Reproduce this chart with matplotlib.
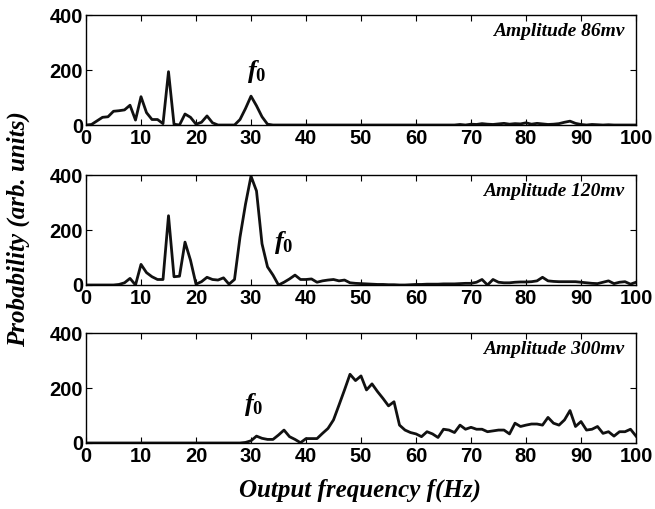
import numpy as np
import matplotlib
matplotlib.use('Agg')
import matplotlib.pyplot as plt
from matplotlib.font_manager import FontProperties

plt.rcParams['mathtext.fontset'] = 'custom'
plt.rcParams['mathtext.it'] = 'Liberation Serif:italic:bold'
plt.rcParams['mathtext.rm'] = 'Liberation Serif:bold'

# frequency grid (Hz)
freq = np.arange(0, 101)

# Amplitude 86 mV
p86 = [0, 2, 15, 28, 30, 50, 52, 55, 72, 18, 103, 45, 20, 20, 5, 194, 3, 0, 40, 28,
       3, 10, 33, 8, 0, 0, 0, 0, 20, 60, 105, 70, 30, 3, 0, 0, 0, 0, 0, 0,
       0, 0, 0, 0, 0, 0, 0, 0, 0, 0, 0, 0, 0, 0, 0, 0, 0, 0, 0, 0,
       0, 0, 0, 0, 0, 0, 0, 0, 2, 0, 3, 2, 5, 3, 2, 4, 6, 3, 5, 4,
       8, 3, 6, 4, 2, 3, 5, 10, 14, 6, 2, 0, 2, 1, 0, 1, 0, 0, 0, 0, 0]

# Amplitude 120 mV
p120 = [0, 0, 0, 0, 0, 0, 2, 8, 24, 0, 75, 45, 30, 20, 20, 252, 30, 32, 156, 90,
        3, 12, 28, 20, 18, 26, 3, 20, 174, 294, 396, 342, 150, 66, 36, 0, 10, 22, 36, 20,
        20, 22, 10, 15, 18, 20, 15, 18, 8, 6, 5, 4, 3, 2, 2, 1, 1, 0, 0, 1,
        2, 2, 3, 3, 3, 4, 4, 4, 5, 6, 6, 10, 20, 0, 20, 10, 8, 8, 10, 11,
        11, 12, 15, 28, 15, 13, 12, 12, 12, 12, 10, 8, 6, 5, 10, 15, 5, 10, 12, 3, 10]

# Amplitude 300 mV
p300 = [0, 0, 0, 0, 0, 0, 0, 0, 0, 0, 0, 0, 0, 0, 0, 0, 0, 0, 0, 0,
        0, 0, 0, 0, 0, 0, 0, 0, 0, 2, 8, 25, 17, 13, 13, 29, 47, 23, 13, 1,
        16, 16, 16, 35, 53, 84, 138, 193, 250, 227, 244, 193, 215, 187, 162, 135, 150, 65, 47, 38,
        33, 23, 41, 33, 20, 50, 47, 38, 65, 50, 57, 50, 50, 41, 44, 47, 47, 33, 72, 60,
        65, 69, 69, 65, 93, 72, 65, 84, 118, 60, 78, 47, 50, 60, 35, 41, 25, 41, 41, 50, 25]

series = [p86, p120, p300]
labels = ['Amplitude 86mv', 'Amplitude 120mv', 'Amplitude 300mv']
f0_pos = [(31.0, 195), (36.0, 155), (30.5, 140)]

fig = plt.figure(figsize=(6.55, 5.09), dpi=100)
bottoms = [0.7544, 0.4401, 0.1297]
height = 0.216

tick_fp = FontProperties(family='Liberation Sans', weight='bold', size=14.5)
serif = ['Liberation Serif', 'DejaVu Serif']

for i, (y, lab, fp) in enumerate(zip(series, labels, f0_pos)):
    ax = fig.add_axes([0.1313, bottoms[i], 0.8397, height])
    ax.plot(freq, y, color='#111111', lw=2.0)
    ax.set_xlim(0, 100)
    ax.set_ylim(0, 400)
    ax.set_xticks(np.arange(0, 101, 10))
    ax.set_yticks([0, 200, 400])
    ax.tick_params(direction='in', top=True, right=True, length=4, width=0.8, pad=2)
    ax.tick_params(axis='x', pad=3)
    for t in ax.get_xticklabels() + ax.get_yticklabels():
        t.set_fontproperties(tick_fp)
    for s in ax.spines.values():
        s.set_linewidth(1.0)
    ax.text(97.8, 340, lab, ha='right', va='center', family=serif,
            style='italic', weight='bold', fontsize=14)
    ax.text(fp[0], fp[1], r'$\mathit{f_0}$', ha='center', va='center', fontsize=19)

fig.text(0.028, 0.55, 'Probability (arb. units)', rotation=90, ha='center', va='center',
         family=serif, style='italic', weight='bold', fontsize=18)
fig.text(0.55, 0.037, 'Output frequency f(Hz)', ha='center', va='center',
         family=serif, style='italic', weight='bold', fontsize=18)

fig.savefig('out.png', dpi=100)
